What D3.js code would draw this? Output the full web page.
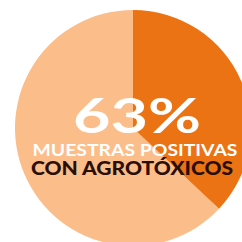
<!DOCTYPE html>
<html>
<head>
<meta charset="utf-8">
<script src="https://cdn.jsdelivr.net/npm/d3@7"></script>
<style>
  html, body { margin: 0; padding: 0; background: #fff; }
  svg { display: block; }
</style>
</head>
<body>
<div id="chart"></div>
<script>
// share of samples with / without pesticide residues
const labels = ["positivas", "negativas"];
const values = [63, 37];
const colors = ["#fbbd8a", "#ec7314"];
const bigLabel = "63%";
const line1 = "MUESTRAS POSITIVAS";
const line2 = "CON AGROTÓXICOS";

const width = 242;
const height = 242;

const svg = d3.select("#chart")
  .append("svg")
  .attr("width", width)
  .attr("height", height);

const radius = 118;
const g = svg.append("g")
  .attr("transform", "translate(133,128)");

// dark slice starts at 12 o'clock going clockwise, light slice fills the rest
const pie = d3.pie()
  .sort(null)
  .startAngle(2 * Math.PI * values[1] / 100)
  .endAngle(2 * Math.PI + 2 * Math.PI * values[1] / 100);

const arc = d3.arc().innerRadius(0).outerRadius(radius);

g.selectAll("path")
  .data(pie(values))
  .enter()
  .append("path")
  .attr("d", arc)
  .attr("fill", (d, i) => colors[i]);

svg.append("text")
  .attr("x", 137)
  .attr("y", 133)
  .attr("text-anchor", "middle")
  .attr("font-family", "Lato, sans-serif")
  .attr("font-weight", "bold")
  .attr("font-size", 48)
  .attr("fill", "#fff")
  .attr("textLength", 128)
  .attr("lengthAdjust", "spacingAndGlyphs")
  .text(bigLabel);

svg.append("text")
  .attr("x", 135)
  .attr("y", 156)
  .attr("text-anchor", "middle")
  .attr("font-family", "Lato, sans-serif")
  .attr("font-weight", "bold")
  .attr("font-size", 17)
  .attr("fill", "#fff")
  .attr("textLength", 205)
  .attr("lengthAdjust", "spacingAndGlyphs")
  .text(line1);

svg.append("text")
  .attr("x", 132)
  .attr("y", 175)
  .attr("text-anchor", "middle")
  .attr("font-family", "Lato, sans-serif")
  .attr("font-weight", "900")
  .attr("font-size", 18)
  .attr("fill", "#2a0e02")
  .attr("textLength", 202)
  .attr("lengthAdjust", "spacingAndGlyphs")
  .text(line2);
</script>
</body>
</html>
